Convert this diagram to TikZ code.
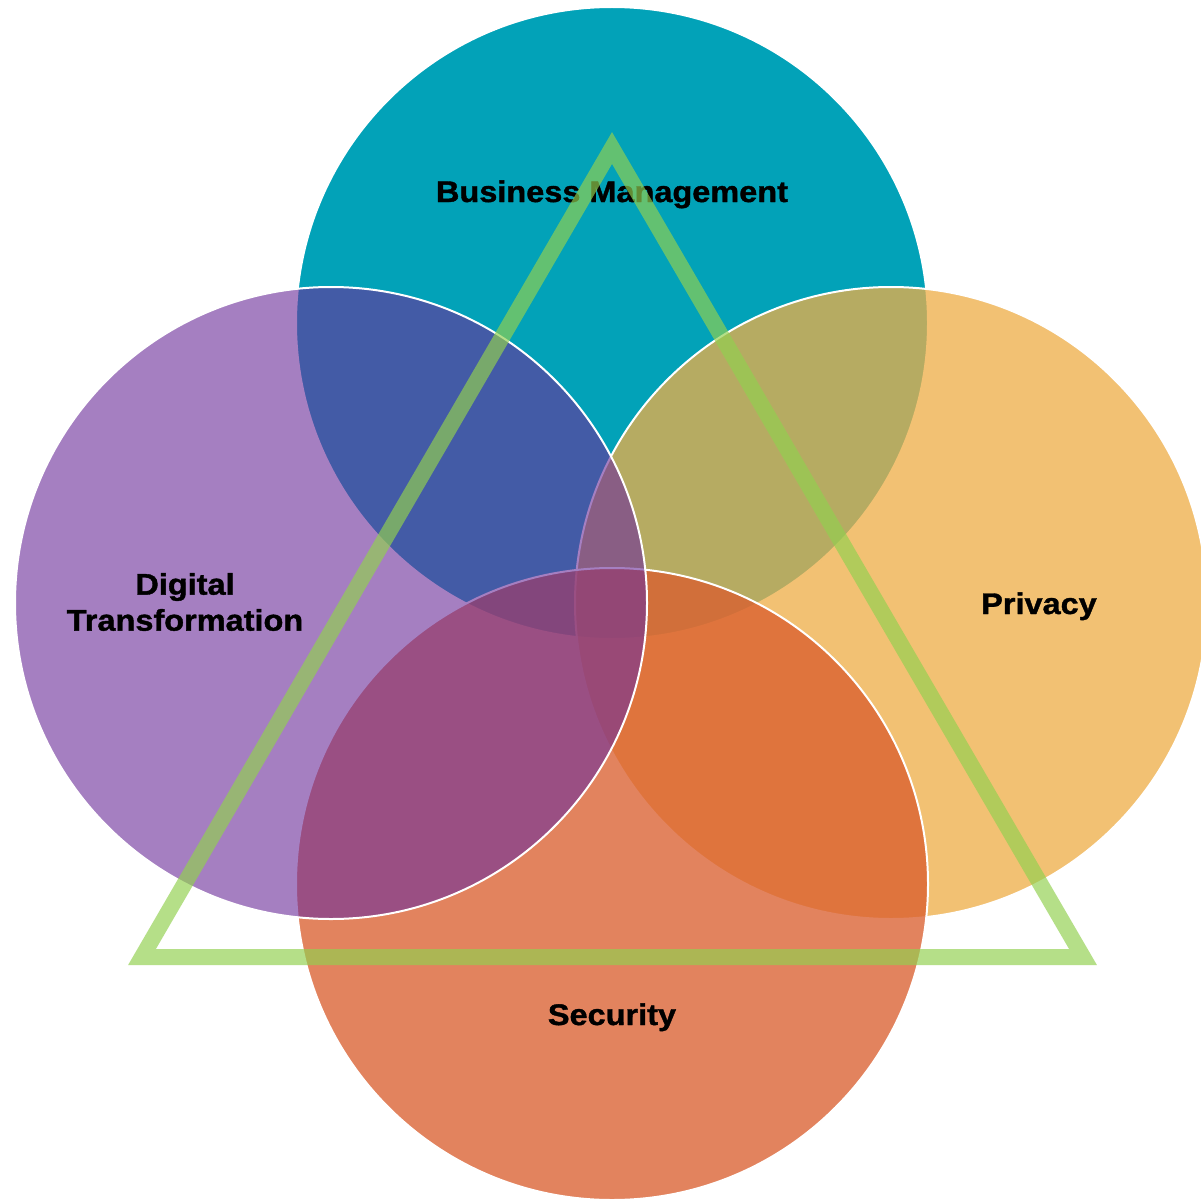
\documentclass[tikz,border=0pt]{standalone}
\usepackage{fontspec}
\newfontfamily\labelfont{Liberation Sans}[FakeStretch=1.09, BoldFeatures={FakeBold=1.3}]
\definecolor{teal1}{RGB}{2,162,184}
\definecolor{gold1}{RGB}{238,174,72}
\definecolor{orange1}{RGB}{218,94,46}
\definecolor{purple1}{RGB}{109,46,155}
\definecolor{green1}{RGB}{146,208,80}
\begin{document}
\begin{tikzpicture}[x=1pt,y=-1pt,
  ring/.style={draw=white, line width=2pt},
  lbl/.style={font=\labelfont\bfseries\fontsize{29.8}{36}\selectfont, text=black, inner sep=0pt}]
\useasboundingbox (0,0) rectangle (1201,1201);
\clip (0,0) rectangle (1201,1201);
\fill[white] (0,0) rectangle (1201,1201);
% circles
\path[ring, fill=teal1] (612,323) circle[radius=316pt];
\path[ring, fill=gold1, fill opacity=0.765] (891,603) circle[radius=316pt];
\path[ring, fill=orange1, fill opacity=0.77] (612,884) circle[radius=316pt];
\path[ring, fill=purple1, fill opacity=0.612] (331,603) circle[radius=316pt];
% labels
\node[lbl, anchor=base] (bm) at (612,202) {Business Management};
\node[lbl, anchor=base] (pr) at (1039,614) {Privacy};
\node[lbl, anchor=base] (se) at (612,1025) {Security};
\node[lbl, align=center] (dt) at (185,602) {Digital\\Transformation};
% triangle
\coordinate (ta) at (612,148);
\coordinate (tl) at (142,957);
\coordinate (tr) at (1083,957);
\draw[green1, draw opacity=0.675, line width=16pt, line join=miter, miter limit=10] (ta) -- (tl) -- (tr) -- cycle;
\end{tikzpicture}
\end{document}
